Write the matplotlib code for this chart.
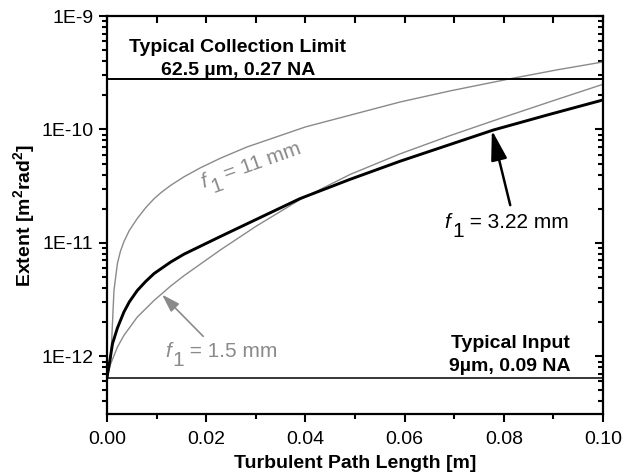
import numpy as np
import matplotlib.pyplot as plt
from matplotlib.ticker import FixedLocator, LogLocator, MultipleLocator, FuncFormatter

plt.rcParams['font.family'] = ['Liberation Sans', 'DejaVu Sans']
plt.rcParams['mathtext.fontset'] = 'custom'
plt.rcParams['mathtext.rm'] = 'Liberation Sans'
plt.rcParams['mathtext.bf'] = 'Liberation Sans:bold'

# path length [m] and log10 of extent [m^2 rad^2]
x_11 = [0.0, 0.0008, 0.0011, 0.0014, 0.0021, 0.0027, 0.0034, 0.0045, 0.0061, 0.0078, 0.0095,
        0.011, 0.0128, 0.0155, 0.0188, 0.0228, 0.0282, 0.040, 0.0591, 0.0692, 0.0819, 0.0907, 0.100]
lg_11 = [-12.187, -12.0, -11.71, -11.42, -11.18, -11.075, -10.99, -10.89, -10.785, -10.69, -10.61,
         -10.553, -10.494, -10.418, -10.339, -10.255, -10.155, -9.978, -9.758, -9.66, -9.548, -9.475, -9.405]

x_322 = [0.0, 0.0006, 0.0011, 0.0021, 0.0034, 0.0045, 0.0061, 0.0078, 0.0095, 0.0128, 0.0155,
         0.0188, 0.0228, 0.030, 0.0389, 0.049, 0.0591, 0.069, 0.0779, 0.089, 0.100]
lg_322 = [-12.187, -12.03, -11.89, -11.75, -11.61, -11.52, -11.42, -11.34, -11.27, -11.17, -11.10,
          -11.03, -10.945, -10.795, -10.61, -10.44, -10.28, -10.135, -10.005, -9.87, -9.74]

x_15 = [0.0, 0.00075, 0.0021, 0.0034, 0.0061, 0.0095, 0.0128, 0.0155, 0.0228, 0.030, 0.0389,
        0.049, 0.0591, 0.069, 0.0792, 0.090, 0.100]
lg_15 = [-12.187, -12.065, -11.919, -11.816, -11.654, -11.507, -11.382, -11.29, -11.064, -10.855, -10.619,
         -10.397, -10.215, -10.057, -9.904, -9.746, -9.602]

collection_limit = 2.8e-10
typical_input = 6.5e-13

gray = '#8a8a8a'

fig = plt.figure(figsize=(6.24, 4.75), dpi=100)
ax = fig.add_axes([0.1715, 0.1284, 0.7948, 0.8379])

ax.plot(x_11, np.power(10.0, lg_11), color=gray, lw=1.0)
ax.plot(x_15, np.power(10.0, lg_15), color=gray, lw=1.0)
ax.plot(x_322, np.power(10.0, lg_322), color='black', lw=2.1)
ax.axhline(collection_limit, color='black', lw=1.4)
ax.axhline(typical_input, color='black', lw=1.1)

ax.set_yscale('log')
ax.set_xlim(0, 0.1)
ax.set_ylim(3.1e-13, 1e-9)


def f1_label(x, y, rest, color, angle=0.0, size=15):
    # italic f, full size "1" dropped below the baseline, then the rest
    th = np.radians(angle)
    parts = [('f', 0.0, 0.0, 'italic'), ('1', 0.36, -0.4, 'normal'), (rest, 0.90, 0.0, 'normal')]
    for s, dx, dy, style in parts:
        ox = (dx * np.cos(th) - dy * np.sin(th)) * size
        oy = (dx * np.sin(th) + dy * np.cos(th)) * size
        ax.annotate(s, (x, y), xytext=(ox, oy), textcoords='offset points',
                    ha='left', va='baseline', rotation=angle, rotation_mode='anchor',
                    fontstyle=style, color=color, fontsize=size)


f1_label(0.0194, 3.06e-11, ' = 11 mm', gray, angle=19.5)
f1_label(0.0681, 1.34e-11, ' = 3.22 mm', 'black')
f1_label(0.0117, 9.8e-13, ' = 1.5 mm', gray)

ax.annotate('', xy=(0.0776, 9.86e-11), xytext=(0.0813, 2.15e-11),
            arrowprops=dict(arrowstyle='-|>,head_length=1.3,head_width=0.35', color='black',
                            lw=1.8, mutation_scale=14, shrinkA=0, shrinkB=0))
ax.annotate('', xy=(0.0111, 3.5e-12), xytext=(0.0194, 1.5e-12),
            arrowprops=dict(arrowstyle='-|>,head_length=1.1,head_width=0.35', color=gray,
                            lw=1.2, mutation_scale=10, shrinkA=0, shrinkB=0))

ax.text(0.0264, 4.2e-10, 'Typical Collection Limit\n62.5 \u00b5m, 0.27 NA', fontsize=14,
        fontweight='bold', ha='center', va='center', linespacing=1.45)
ax.text(0.0813, 1.02e-12, 'Typical Input\n9\u00b5m, 0.09 NA', fontsize=14,
        fontweight='bold', ha='center', va='center', linespacing=1.45)

ax.xaxis.set_major_locator(MultipleLocator(0.02))
ax.xaxis.set_minor_locator(MultipleLocator(0.01))
ax.xaxis.set_major_formatter(FuncFormatter(lambda v, p: f'{v:.2f}'))
ax.yaxis.set_major_locator(FixedLocator([1e-12, 1e-11, 1e-10, 1e-9]))
ax.yaxis.set_minor_locator(LogLocator(base=10, subs=np.arange(2, 10)))
ax.yaxis.set_major_formatter(FuncFormatter(lambda v, p: f'1E{int(round(np.log10(v)))}'))

ax.tick_params(which='both', direction='out', labelsize=14, width=1.5, top=False, right=False)
ax.tick_params(which='major', length=6, pad=4)
ax.tick_params(axis='x', which='major', pad=6)
ax.tick_params(which='minor', length=3.5)
for s in ax.spines.values():
    s.set_linewidth(1.6)

# inward ticks on top and right
axt = ax.secondary_xaxis('top')
axt.xaxis.set_major_locator(MultipleLocator(0.01))
axt.tick_params(direction='in', length=5, width=1.5, labeltop=False)
axt.spines['top'].set_visible(False)
axr = ax.secondary_yaxis('right')
axr.yaxis.set_major_locator(FixedLocator([1e-12, 1e-11, 1e-10, 1e-9]))
axr.yaxis.set_minor_locator(LogLocator(base=10, subs=np.arange(2, 10)))
axr.tick_params(which='both', direction='in', width=1.5, labelright=False)
axr.tick_params(which='major', length=6)
axr.tick_params(which='minor', length=3.5)
axr.spines['right'].set_visible(False)

ax.set_xlabel('Turbulent Path Length [m]', fontsize=14, fontweight='bold', labelpad=5)
ax.set_ylabel(r'Extent [m$^\mathbf{2}$rad$^\mathbf{2}$]', fontsize=14, fontweight='bold', labelpad=2)

fig.savefig('out.png', dpi=100)
